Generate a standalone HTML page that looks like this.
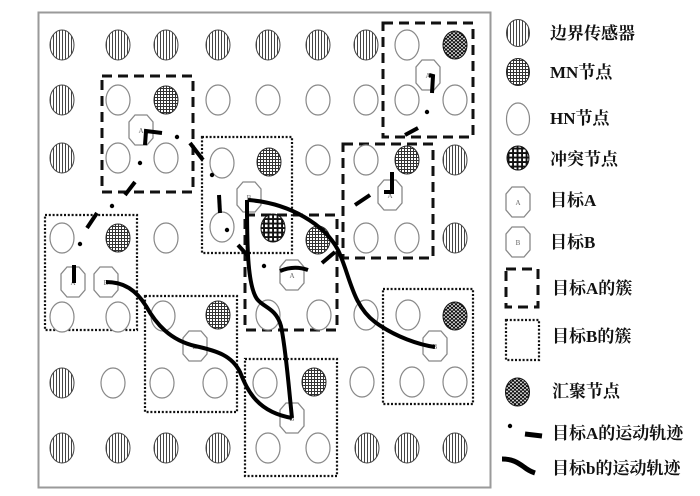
<!DOCTYPE html>
<html><head><meta charset="utf-8"><style>
html,body{margin:0;padding:0;background:#fff;}
svg{display:block;}
text{font-family:"Liberation Serif","Noto Serif CJK SC",serif;font-size:17px;font-weight:bold;fill:#111;}
</style></head><body>
<svg width="700" height="496" viewBox="0 0 700 496" xmlns="http://www.w3.org/2000/svg">
<defs>
<pattern id="vs" width="3" height="3" patternUnits="userSpaceOnUse"><rect width="3" height="3" fill="#fff"/><rect width="1" height="3" fill="#444"/></pattern>
<pattern id="mn" width="3" height="3" patternUnits="userSpaceOnUse"><rect width="3" height="3" fill="#fff"/><rect width="1" height="3" fill="#333"/><rect width="3" height="1" fill="#333"/></pattern>
<pattern id="cf" width="4.5" height="4.5" patternUnits="userSpaceOnUse"><rect width="4.5" height="4.5" fill="#111"/><rect x="1" y="1" width="2.6" height="2.6" fill="#fff"/></pattern>
<pattern id="sk" width="4" height="3.6" patternUnits="userSpaceOnUse"><rect width="4" height="3.6" fill="#111"/><circle cx="1" cy="0.9" r="0.9" fill="#fff"/><circle cx="3" cy="2.7" r="0.9" fill="#fff"/></pattern>
<g id="B"><ellipse rx="12" ry="15" fill="url(#vs)" stroke="#444" stroke-width="1"/></g>
<g id="M"><ellipse rx="12" ry="14" fill="url(#mn)" stroke="#222" stroke-width="1"/></g>
<g id="H"><ellipse rx="12" ry="15" fill="#fff" stroke="#888" stroke-width="1.2"/></g>
<g id="C"><ellipse rx="12" ry="14" fill="url(#cf)" stroke="#111" stroke-width="1"/></g>
<g id="S"><ellipse rx="12" ry="14" fill="url(#sk)" stroke="#111" stroke-width="1"/></g>
<g id="TA"><polygon points="-6,-15 6,-15 12,-8 12,8 6,15 -6,15 -12,8 -12,-8" fill="#fff" stroke="#888" stroke-width="1.3"/><text x="0" y="3" text-anchor="middle" style="font-size:7px;font-weight:normal;fill:#666">A</text></g>
<g id="TB"><polygon points="-6,-15 6,-15 12,-8 12,8 6,15 -6,15 -12,8 -12,-8" fill="#fff" stroke="#888" stroke-width="1.3"/><text x="0" y="3" text-anchor="middle" style="font-size:7px;font-weight:normal;fill:#666">B</text></g>
</defs>

<rect x="38.5" y="12.5" width="452" height="475" fill="none" stroke="#9a9a9a" stroke-width="2"/>

<!-- clusters A (dashed) -->
<g fill="none" stroke="#111" stroke-width="3" stroke-dasharray="10 6">
<rect x="102" y="76" width="91" height="116"/>
<rect x="383" y="23" width="90" height="114"/>
<rect x="343" y="144" width="90" height="114"/>
<rect x="245" y="215" width="92" height="115"/>
</g>
<!-- clusters B (dotted) -->
<g fill="none" stroke="#111" stroke-width="2.2" stroke-dasharray="2 1.8">
<rect x="45" y="215" width="92" height="115" fill="#fff"/>
<rect x="202" y="137" width="90" height="116"/>
<rect x="145" y="296" width="92" height="116"/>
<rect x="245" y="359" width="92" height="117"/>
<rect x="383" y="289" width="90" height="115"/>
</g>

<!-- nodes -->
<use href="#B" x="62" y="45"/><use href="#B" x="118" y="45"/><use href="#B" x="166" y="45"/><use href="#B" x="218" y="45"/><use href="#B" x="268" y="45"/><use href="#B" x="318" y="45"/><use href="#B" x="366" y="45"/><use href="#H" x="407" y="45"/><use href="#S" x="455" y="45"/>

<use href="#B" x="62" y="100"/><use href="#H" x="118" y="100"/><use href="#M" x="166" y="100"/><use href="#H" x="218" y="100"/><use href="#H" x="268" y="100"/><use href="#H" x="318" y="100"/><use href="#H" x="366" y="100"/><use href="#H" x="407" y="100"/><use href="#H" x="455" y="100"/>

<use href="#B" x="62" y="158"/><use href="#H" x="118" y="158"/><use href="#H" x="166" y="158"/><use href="#H" x="222" y="163"/><use href="#M" x="269" y="162"/><use href="#H" x="318" y="160"/><use href="#H" x="366" y="160"/><use href="#M" x="407" y="160"/><use href="#B" x="455" y="160"/>

<use href="#H" x="62" y="238"/><use href="#M" x="118" y="238"/><use href="#H" x="166" y="238"/><use href="#H" x="222" y="227"/><use href="#C" x="273" y="228"/><use href="#M" x="318" y="240"/><use href="#H" x="366" y="238"/><use href="#H" x="407" y="238"/><use href="#B" x="455" y="238"/>

<use href="#H" x="62" y="317"/><use href="#H" x="118" y="317"/><use href="#H" x="163" y="316"/><use href="#M" x="218" y="315"/><use href="#H" x="268" y="315"/><use href="#H" x="319" y="315"/><use href="#H" x="366" y="315"/><use href="#H" x="408" y="315"/><use href="#S" x="455" y="316"/>

<use href="#B" x="62" y="383"/><use href="#H" x="113" y="383"/><use href="#H" x="162" y="383"/><use href="#H" x="215" y="383"/><use href="#H" x="265" y="383"/><use href="#M" x="314" y="382"/><use href="#H" x="362" y="382"/><use href="#H" x="412" y="382"/><use href="#H" x="455" y="382"/>

<use href="#B" x="62" y="448"/><use href="#B" x="118" y="448"/><use href="#B" x="166" y="448"/><use href="#B" x="218" y="448"/><use href="#H" x="268" y="448"/><use href="#H" x="318" y="448"/><use href="#B" x="367" y="448"/><use href="#B" x="407" y="448"/><use href="#B" x="455" y="448"/>

<!-- targets -->
<use href="#TA" x="73" y="282"/><use href="#TA" x="141" y="130"/><use href="#TA" x="292" y="275"/><use href="#TA" x="390" y="195"/><use href="#TA" x="428" y="75"/>
<use href="#TB" x="106" y="282"/><use href="#TB" x="249" y="197"/><use href="#TB" x="195" y="346"/><use href="#TB" x="292" y="418"/><use href="#TB" x="435" y="346"/>

<!-- target B trajectories -->
<g fill="none" stroke="#000" stroke-width="4" stroke-linecap="butt">
<path d="M106,282 C124,282 136,290 146,306 C156,324 170,340 195,346 C218,351 232,356 240,372 C248,392 258,412 292,418"/>
<path d="M247,200 C247,240 247,285 257,299 C264,308 276,308 281,326 C286,350 289,390 292,418"/>
<path d="M248,200 C290,203 325,225 338,250 C350,275 352,305 375,322 C395,337 420,345 435,347"/>
</g>

<!-- target A trajectory -->
<g fill="none" stroke="#000" stroke-width="4" stroke-linecap="butt">
<path d="M74,265 L74,283"/>
<path d="M87,228 L97,213"/>
<path d="M125,195 L135,182"/>
<path d="M145,145 L146,131 L162,133"/>
<path d="M190,143 L203,160"/>
<path d="M219,195 L220,213"/>
<path d="M238,245 L248,256"/>
<path d="M280,271 Q294,265 308,270"/>
<path d="M322,263 L335,252"/>
<path d="M355,205 L370,195"/>
<path d="M392,172 L392,192 L384,192"/>
<path d="M405,135 L418,128"/>
<path d="M429,75 L433,76 L432,93"/>
</g>
<g fill="#000">
<circle cx="80" cy="244" r="2.2"/><circle cx="112" cy="206" r="2.2"/><circle cx="140" cy="163" r="2.2"/><circle cx="177" cy="137" r="2.2"/><circle cx="212" cy="175" r="2.2"/><circle cx="227" cy="230" r="2.2"/><circle cx="264" cy="266" r="2.2"/><circle cx="427" cy="112" r="2.2"/>
</g>

<!-- legend -->
<ellipse cx="518" cy="33" rx="11.5" ry="13.5" fill="url(#vs)" stroke="#444" stroke-width="1"/>
<ellipse cx="518" cy="72" rx="11.5" ry="13.5" fill="url(#mn)" stroke="#222" stroke-width="1"/>
<ellipse cx="518" cy="119" rx="11.5" ry="16" fill="#fff" stroke="#888" stroke-width="1.2"/>
<ellipse cx="518" cy="158" rx="11" ry="12" fill="url(#cf)" stroke="#111" stroke-width="1"/>
<use href="#TA" x="518" y="202"/>
<use href="#TB" x="518" y="242"/>
<rect x="506" y="269" width="32" height="38" fill="none" stroke="#111" stroke-width="3" stroke-dasharray="10 6"/>
<rect x="506" y="320" width="33" height="40" fill="none" stroke="#111" stroke-width="2.2" stroke-dasharray="2 1.8"/>
<ellipse cx="517.5" cy="392" rx="12" ry="14" fill="url(#sk)" stroke="#111" stroke-width="1"/>
<circle cx="510" cy="426" r="2.2" fill="#000"/>
<path d="M525,434 L542,436" stroke="#000" stroke-width="5" fill="none"/>
<path d="M502,459 C512,459 517,462 524,467 C529,471 532,472 535,473" stroke="#000" stroke-width="5" fill="none"/>

<text x="550" y="39">边界传感器</text>
<text x="550" y="78">MN节点</text>
<text x="550" y="124">HN节点</text>
<text x="550" y="165">冲突节点</text>
<text x="550" y="206">目标A</text>
<text x="550" y="248">目标B</text>
<text x="552" y="294">目标A的簇</text>
<text x="552" y="342">目标B的簇</text>
<text x="552" y="397">汇聚节点</text>
<text x="552" y="439">目标A的运动轨迹</text>
<text x="552" y="474">目标b的运动轨迹</text>
</svg>
</body></html>
